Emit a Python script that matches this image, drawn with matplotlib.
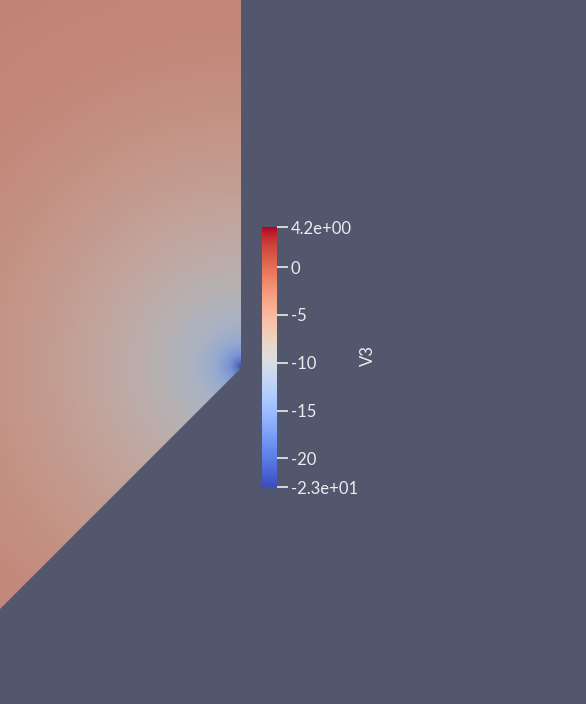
import numpy as np
import matplotlib
matplotlib.use("Agg")
import matplotlib.pyplot as plt
from matplotlib.patches import Polygon
from matplotlib import colors, cm

radius = [0, 5, 12, 25, 45, 80, 130, 190, 260, 340, 450, 700]
v3_profile = [-23, -19.5, -16, -13, -10.5, -8.7, -6.8, -5.2, -3.8, -2.8, -2.3, -2]
vmin, vmax = -23.0, 4.2
tick_values = [4.2, 0, -5, -10, -15, -20, -23]
tick_labels = ["4.2e+00", "0", "-5", "-10", "-15", "-20", "-2.3e+01"]

# domain outline in screen pixels
outline = [(0, 0), (241, 0), (241, 368), (0, 609)]
corner = (241, 366)

bg = np.array([82, 87, 110]) / 255.0
W, H = 586, 704

fig = plt.figure(figsize=(W / 100, H / 100), dpi=100, facecolor=bg)
ax = fig.add_axes([0, 0, 1, 1])
ax.set_xlim(0, W)
ax.set_ylim(H, 0)
ax.set_facecolor(bg)
ax.axis("off")

cmap = plt.get_cmap("coolwarm")
norm = colors.Normalize(vmin, vmax)

xs = np.arange(0, 242) + 0.5
ys = np.arange(0, 610) + 0.5
X, Y = np.meshgrid(xs, ys)
R = np.hypot(X - corner[0], Y - corner[1])
field = np.interp(R, radius, v3_profile)
rgb = cmap(norm(field))[..., :3]
a = 0.69  # surface looks washed out against the background
rgb = a * rgb + (1 - a) * bg

poly = Polygon(outline, closed=True, transform=ax.transData, facecolor="none", edgecolor="none")
ax.add_patch(poly)
im = ax.imshow(rgb, extent=(0, 242, 610, 0), interpolation="bilinear", zorder=1)
im.set_clip_path(poly)

# colour legend
x0, x1 = 262, 277
y0, y1 = 227, 487
cax = fig.add_axes([x0 / W, 1 - y1 / H, (x1 - x0) / W, (y1 - y0) / H])
cb = fig.colorbar(cm.ScalarMappable(norm=norm, cmap=cmap), cax=cax)
cb.outline.set_visible(False)
cb.set_ticks(tick_values)
cb.set_ticklabels(tick_labels)
cax.tick_params(colors="#ececec", length=8, width=1.2, pad=2, labelsize=12)
for t in cax.get_yticklabels():
    t.set_color("#ececec")
    t.set_family("Lato")

fig.text(368 / W, 1 - 356 / H, "V3", rotation=90, color="#ececec",
         fontsize=12, family="Lato", ha="center", va="center")

fig.savefig("out.png", dpi=100, facecolor=bg)
